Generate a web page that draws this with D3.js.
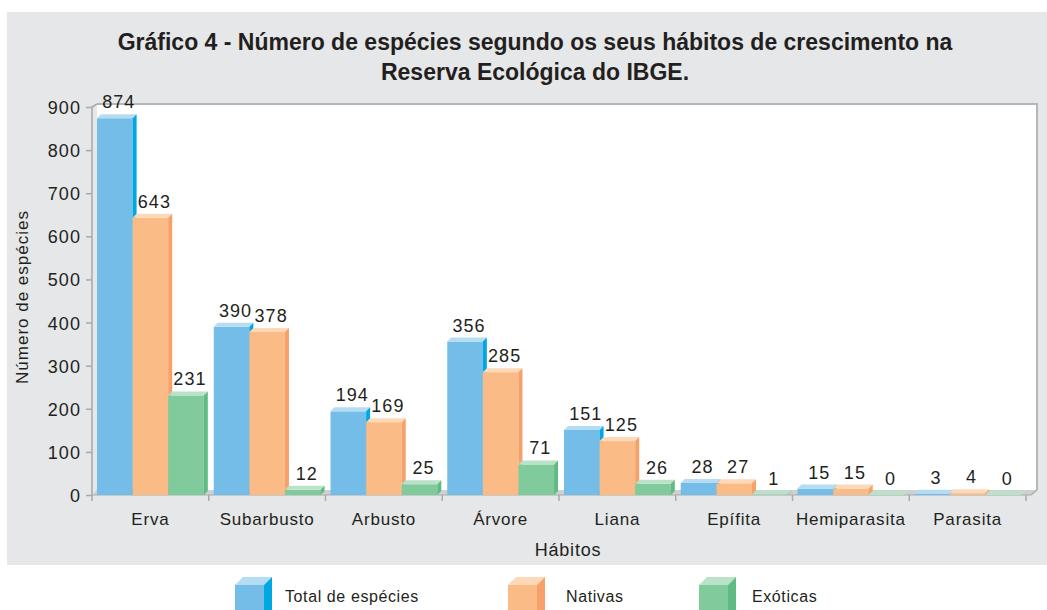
<!DOCTYPE html>
<html>
<head>
<meta charset="utf-8">
<script src="https://cdn.jsdelivr.net/npm/d3@7"></script>
<style>
  body { margin: 0; background: #fff; }
  svg text { font-family: "Liberation Sans", Arial, sans-serif; fill: #231f20; }
</style>
</head>
<body>
<div id="chart"></div>
<script>
const categories = ["Erva", "Subarbusto", "Arbusto", "Árvore", "Liana", "Epífita", "Hemiparasita", "Parasita"];
const total = [874, 390, 194, 356, 151, 28, 15, 3];
const nativas = [643, 378, 169, 285, 125, 27, 15, 4];
const exoticas = [231, 12, 25, 71, 26, 1, 0, 0];
const seriesNames = ["Total de espécies", "Nativas", "Exóticas"];
const yTicks = [0, 100, 200, 300, 400, 500, 600, 700, 800, 900];

const width = 1047;
const height = 610;

const colors = [
    { front: "#74bde9", top: "#b4dcf3", side: "#00a8e1" },
    { front: "#fbbb86", top: "#fdd9b8", side: "#f7a068" },
    { front: "#80ca9b", top: "#b9e2c8", side: "#5fbb83" }
];

const svg = d3.select("#chart")
    .append("svg")
    .attr("width", width)
    .attr("height", height);

// grey panel
svg.append("rect")
    .attr("x", 7).attr("y", 12)
    .attr("width", width - 7).attr("height", 553)
    .attr("fill", "#e6e7e8");

const x0 = 92, x1 = 1026, yBase = 495, dep = 5;

const x = d3.scaleBand().domain(categories).range([x0, x1]);
const xs = d3.scaleBand().domain(d3.range(3)).range([5, 5 + 3 * 35.6]);
const y = d3.scaleLinear().domain([0, 900]).range([yBase, 107]);

// back wall + floor
svg.append("rect")
    .attr("x", x0 + dep).attr("y", 104)
    .attr("width", 1037 - x0 - dep).attr("height", yBase - dep - 104)
    .attr("fill", "#fff");
svg.append("path")
    .attr("d", `M${x0 + dep},104H1037V${yBase - dep}`)
    .attr("fill", "none").attr("stroke", "#b5b6b8").attr("stroke-width", 2);
svg.append("path")
    .attr("d", `M${x0},${yBase}L${x0 + dep},${yBase - dep}H1037L1031,${yBase}Z`)
    .attr("fill", "#cfd0d2");
svg.append("path")
    .attr("d", `M${x0},${yBase}H1031L1037,${yBase - dep}`)
    .attr("fill", "none").attr("stroke", "#a7a9ac").attr("stroke-width", 1.2);

// y axis
svg.append("path")
    .attr("d", `M${x0},${yBase}V${y(900)}L${x0 + dep},104`)
    .attr("fill", "none").attr("stroke", "#a7a9ac").attr("stroke-width", 1.5);

const yAxis = svg.append("g")
    .attr("transform", `translate(${x0},0)`)
    .call(d3.axisLeft(y).tickValues(yTicks).tickSize(6).tickPadding(5));
yAxis.select(".domain").remove();
yAxis.selectAll("line").attr("stroke", "#a7a9ac").attr("stroke-width", 1.5);
yAxis.selectAll("text")
    .style("font-size", "18px")
    .style("letter-spacing", "1.1px")
    .attr("dy", "0.36em");

// x ticks
const bounds = categories.map(c => x(c)).concat([x1]);
svg.selectAll(".xtick")
    .data(bounds)
    .enter().append("line")
    .attr("x1", d => d).attr("x2", d => d)
    .attr("y1", yBase).attr("y2", yBase + 6)
    .attr("stroke", "#a7a9ac").attr("stroke-width", 1.5);

svg.selectAll(".xlab")
    .data(categories)
    .enter().append("text")
    .attr("x", d => x(d) + x.bandwidth() / 2)
    .attr("y", 525)
    .attr("text-anchor", "middle")
    .style("font-size", "17px")
    .style("letter-spacing", "0.8px")
    .text(d => d);

// bars
const d = 4;
const series = [total, nativas, exoticas];
const bars = [];
categories.forEach((c, i) => {
    series.forEach((s, k) => bars.push({ cat: c, k: k, v: s[i] }));
});

const bar = svg.selectAll(".bar")
    .data(bars)
    .enter().append("g")
    .attr("class", "bar");

bar.append("rect")
    .attr("x", b => x(b.cat) + xs(b.k))
    .attr("y", b => y(b.v))
    .attr("width", xs.bandwidth())
    .attr("height", b => yBase - y(b.v))
    .attr("fill", b => colors[b.k].front);

bar.append("path")
    .attr("d", b => {
        const bx = x(b.cat) + xs(b.k), by = y(b.v), w = xs.bandwidth();
        return `M${bx},${by}L${bx + d},${by - d}H${bx + w + d}L${bx + w},${by}Z`;
    })
    .attr("fill", b => colors[b.k].top);

bar.append("path")
    .attr("d", b => {
        const bx = x(b.cat) + xs(b.k) + xs.bandwidth(), by = y(b.v);
        return `M${bx},${by}L${bx + d},${by - d}V${yBase - d}L${bx},${yBase}Z`;
    })
    .attr("fill", b => colors[b.k].side);

bar.append("text")
    .attr("x", b => x(b.cat) + xs(b.k) + xs.bandwidth() / 2 + 4)
    .attr("y", b => y(b.v) - 10)
    .attr("text-anchor", "middle")
    .style("font-size", "18px")
    .style("letter-spacing", "1.1px")
    .text(b => b.v);

// titles
svg.append("text")
    .attr("x", 535).attr("y", 50)
    .attr("text-anchor", "middle")
    .style("font-size", "23px").style("font-weight", "bold")
    .text("Gráfico 4 - Número de espécies segundo os seus hábitos de crescimento na");
svg.append("text")
    .attr("x", 535).attr("y", 80)
    .attr("text-anchor", "middle")
    .style("font-size", "23px").style("font-weight", "bold")
    .text("Reserva Ecológica do IBGE.");

svg.append("text")
    .attr("transform", "translate(28,297) rotate(-90)")
    .attr("text-anchor", "middle")
    .style("font-size", "17px")
    .style("letter-spacing", "1px")
    .text("Número de espécies");

svg.append("text")
    .attr("x", 568).attr("y", 556)
    .attr("text-anchor", "middle")
    .style("font-size", "18px")
    .style("letter-spacing", "0.8px")
    .text("Hábitos");

// legend
const legendX = [235, 508, 699];
const textX = [285, 566, 752];
const leg = svg.selectAll(".legend")
    .data(seriesNames)
    .enter().append("g")
    .attr("class", "legend");

const cw = 29, ch = 26, cd = 8, cy = 585;
leg.append("rect")
    .attr("x", (n, i) => legendX[i]).attr("y", cy)
    .attr("width", cw).attr("height", ch)
    .attr("fill", (n, i) => colors[i].front);
leg.append("path")
    .attr("d", (n, i) => {
        const lx = legendX[i];
        return `M${lx},${cy}L${lx + cd},${cy - cd}H${lx + cw + cd}L${lx + cw},${cy}Z`;
    })
    .attr("fill", (n, i) => colors[i].top);
leg.append("path")
    .attr("d", (n, i) => {
        const lx = legendX[i] + cw;
        return `M${lx},${cy}L${lx + cd},${cy - cd}V${cy + ch}H${lx}Z`;
    })
    .attr("fill", (n, i) => colors[i].side);
leg.append("text")
    .attr("x", (n, i) => textX[i]).attr("y", 602)
    .style("font-size", "16px")
    .style("letter-spacing", "0.6px")
    .text(n => n);
</script>
</body>
</html>
